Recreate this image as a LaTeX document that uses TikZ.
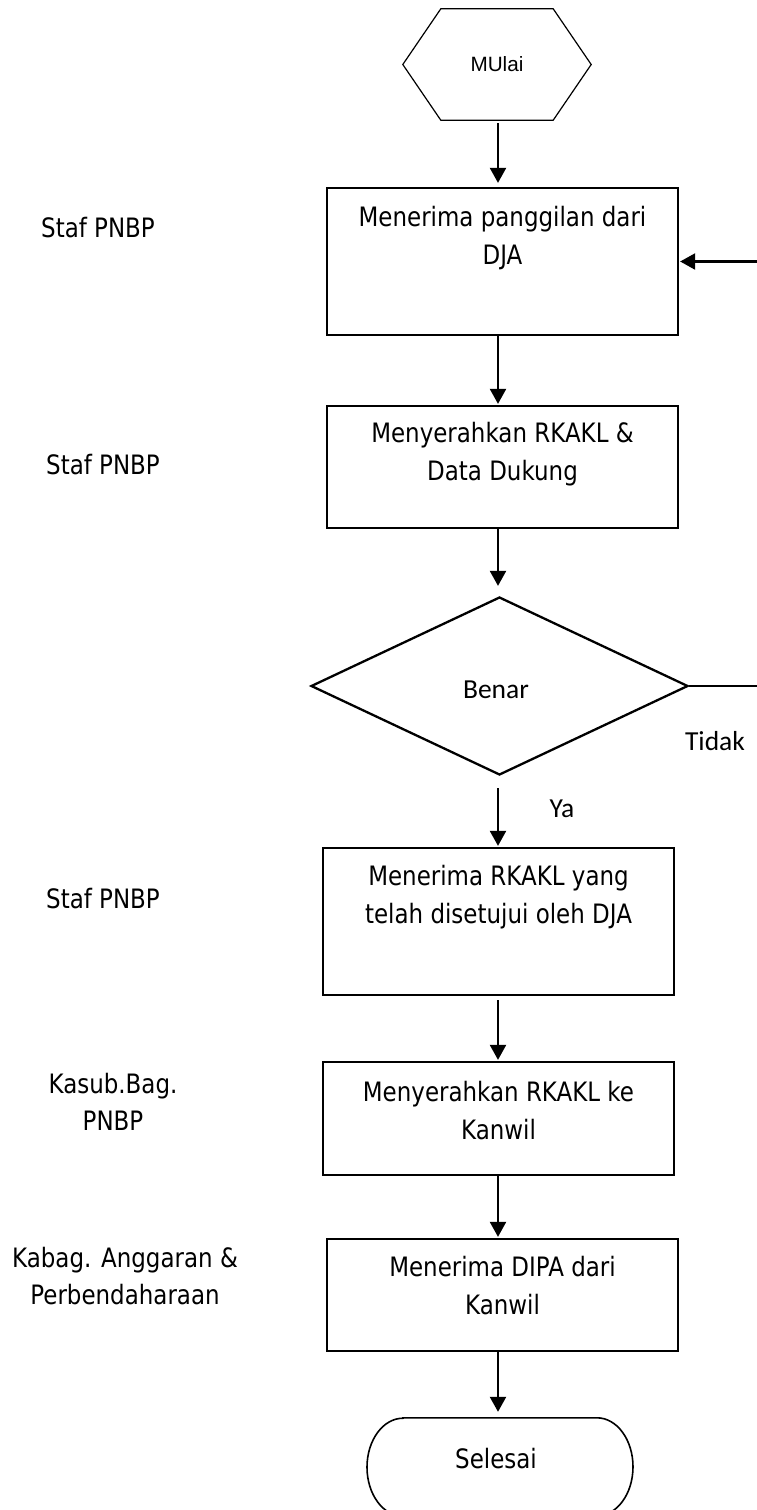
\documentclass[tikz,border=0pt]{standalone}
\usepackage{fontspec}
\setmainfont{DejaVu Sans}[FakeStretch=0.86]
\newfontfamily\calfont{Carlito}
\newfontfamily\arialfont{Liberation Sans}
\usetikzlibrary{arrows.meta,shapes.geometric}

\tikzset{
  stepbox/.style={draw, line width=2.3pt, minimum width=351pt, inner sep=0pt},
  boxtext/.style={font=\fontsize{26.7}{38.5}\selectfont, align=center, anchor=base, inner sep=0pt},
  roletext/.style={font=\fontsize{26.7}{37.5}\selectfont, align=center, anchor=base, inner sep=0pt},
  answer/.style={font=\calfont\fontsize{27.5}{33}\selectfont, anchor=base, inner sep=0pt},
  flow/.style={line width=2.3pt, -{Triangle[length=15pt,width=16pt]}},
}

\begin{document}
\begin{tikzpicture}[x=1pt,y=-1pt]
\useasboundingbox (0,0) rectangle (757,1510);
\clip (0,0) rectangle (757,1510);

% vertical line of the main flow
\coordinate (spine) at (498,0);

% start symbol (hexagon)
\node[minimum width=188pt, minimum height=111pt, inner sep=0pt,
      font=\arialfont\fontsize{20.7}{24}\selectfont] (hex) at (497,64.5) {MUlai};
\draw[line width=1.2pt] (hex.west) -- ([xshift=38pt]hex.north west) -- ([xshift=-38pt]hex.north east)
  -- (hex.east) -- ([xshift=-38pt]hex.south east) -- ([xshift=38pt]hex.south west) -- cycle;

% process steps (two-line texts are placed by the baseline of their last line)
\node[stepbox, minimum height=147pt] (b1) at (502.5,261.5) {};
\node[boxtext] (t1) at (502.5,264.5) {Menerima panggilan dari\\DJA};

\node[stepbox, minimum height=122pt] (b2) at (502.5,467) {};
\node[boxtext] (t2) at (502.5,480.5) {Menyerahkan RKAKL \&\\Data Dukung};

% decision
\node[draw, line width=2.3pt, shape=diamond, minimum width=377pt, minimum height=178pt,
      aspect=2.118, inner sep=0pt] (dec) at (499.5,686) {};
\node[answer] (dect) at (496,698) {Benar};

\node[stepbox, minimum height=147pt] (b3) at (498.5,921.5) {};
\node[boxtext] (t3) at (498.5,923.5) {Menerima RKAKL yang\\telah disetujui oleh DJA};

\node[stepbox, minimum height=113pt] (b4) at (498.5,1118.5) {};
\node[boxtext] (t4) at (498.5,1139.5) {Menyerahkan RKAKL ke\\Kanwil};

\node[stepbox, minimum height=112pt] (b5) at (502.5,1295) {};
\node[boxtext] (t5) at (502.5,1314.5) {Menerima DIPA dari\\Kanwil};

% end symbol
\node[minimum width=266pt, minimum height=98pt, inner sep=0pt] (term) at (500,1467) {};
\draw[line width=1.6pt] ([xshift=-97pt]term.north) -- ([xshift=97pt]term.north)
  arc[start angle=-90, end angle=90, x radius=36, y radius=49]
  -- ([xshift=-97pt]term.south)
  arc[start angle=90, end angle=270, x radius=36, y radius=49] -- cycle;
\node[boxtext] (termt) at (496,1468) {Selesai};

% roles
\node[roletext] (r1) at (98,237) {Staf PNBP};
\node[roletext] (r2) at (103,474) {Staf PNBP};
\node[roletext] (r3) at (103,908) {Staf PNBP};
\node[roletext] (r4) at (113,1130.5) {Kasub.Bag.\\PNBP};
\node[roletext] (r5) at (125,1304.5) {Kabag. Anggaran \&\\Perbendaharaan};

% connectors
\draw[flow] ([yshift=-3pt]hex.south -| spine) -- ([yshift=4pt]b1.north -| spine);
\draw[flow] (b1.south -| spine) -- ([yshift=1pt]b2.north -| spine);
\draw[flow] (b2.south -| spine) -- ([yshift=10pt]dec.north -| spine);
\draw[flow] ([yshift=-12pt]dec.south -| spine) -- ([yshift=1pt]b3.north -| spine);
\draw[flow] ([yshift=-4pt]b3.south -| spine) -- ([yshift=1pt]b4.north -| spine);
\draw[flow] (b4.south -| spine) -- ([yshift=1pt]b5.north -| spine);
\draw[flow] (b5.south -| spine) -- ([yshift=6pt]term.north -| spine);

% "Tidak" branch back to the first step
\coordinate (loop) at (764,0);
\draw[flow] (dec.east) -- (dec.east -| loop) |- ([xshift=1pt]b1.east);

\node[answer] (no) at (715,750) {Tidak};
\node[answer] (yes) at (562,817) {Ya};
\end{tikzpicture}
\end{document}
